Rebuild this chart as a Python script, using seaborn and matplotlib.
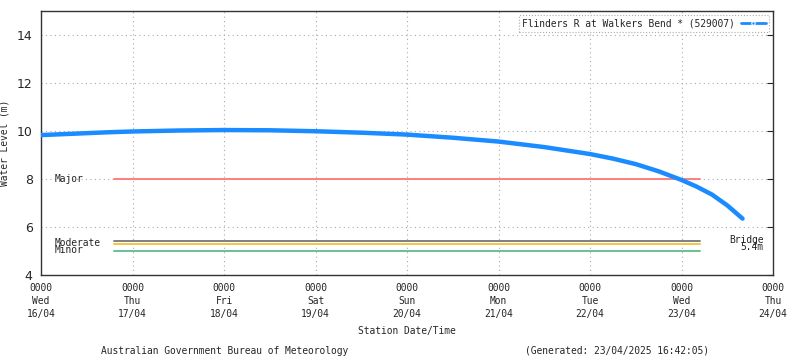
import matplotlib
matplotlib.use('Agg')
import matplotlib.pyplot as plt
import matplotlib.dates as mdates
import pandas as pd
import seaborn as sns

# river level readings
times = ['2025-04-16 00:00', '2025-04-16 06:00', '2025-04-16 12:00', '2025-04-16 18:00',
         '2025-04-17 00:00', '2025-04-17 12:00', '2025-04-18 00:00', '2025-04-18 12:00',
         '2025-04-19 00:00', '2025-04-19 12:00', '2025-04-20 00:00', '2025-04-20 12:00',
         '2025-04-21 00:00', '2025-04-21 12:00', '2025-04-22 00:00', '2025-04-22 06:00',
         '2025-04-22 12:00', '2025-04-22 18:00', '2025-04-23 00:00', '2025-04-23 04:00',
         '2025-04-23 08:00', '2025-04-23 12:00', '2025-04-23 16:00']
levels = [9.83, 9.87, 9.91, 9.95, 9.98, 10.02, 10.04, 10.03,
          9.99, 9.93, 9.85, 9.72, 9.56, 9.33, 9.04, 8.85,
          8.62, 8.32, 7.96, 7.68, 7.35, 6.90, 6.35]

# flood classification levels
thresh_names = ['Major', 'Moderate', 'Minor', 'Bridge']
thresh_values = [8.0, 5.3, 5.0, 5.4]
thresh_colors = ['#ff7f7f', '#f5c542', '#66c199', '#808080']
thresh_start = '2025-04-16 19:12'
thresh_end = '2025-04-23 04:48'

day_ticks = pd.date_range('2025-04-16', '2025-04-24', freq='D')
series_name = 'Flinders R at Walkers Bend * (529007)'

df = pd.DataFrame({'time': pd.to_datetime(times), 'level': levels})

sns.set_style('white')
plt.rcParams['font.family'] = ['DejaVu Sans Mono', 'DejaVu Sans']
fs = 6.9
plt.rcParams['font.size'] = fs

fig = plt.figure(figsize=(8, 3.58), dpi=100)
ax = fig.add_axes([0.0513, 0.2318, 0.915, 0.7375])

# threshold lines
t0, t1 = pd.Timestamp(thresh_start), pd.Timestamp(thresh_end)
for name, val, col in zip(thresh_names, thresh_values, thresh_colors):
    ax.plot([t0, t1], [val, val], color=col, lw=1.4, zorder=2)

sns.lineplot(data=df, x='time', y='level', ax=ax, color='#1a8cff', lw=3.2,
             label=series_name, zorder=3)

ax.set_xlim(day_ticks[0], day_ticks[-1])
ax.set_ylim(4, 15)
ax.set_yticks([4, 6, 8, 10, 12, 14])
ax.set_xticks(day_ticks)
ax.set_xticklabels([d.strftime('0000\n%a\n%d/%m') for d in day_ticks], linespacing=1.35)
ax.xaxis.set_minor_locator(mdates.HourLocator(byhour=[6, 12, 18]))
ax.tick_params(axis='x', which='major', direction='in', length=5, pad=6, top=False, labelsize=fs)
ax.tick_params(axis='x', which='minor', direction='in', length=3, top=False)
ax.tick_params(axis='y', direction='in', length=4, right=True, labelsize=9, pad=6)
for lbl in ax.get_yticklabels():
    lbl.set_family('DejaVu Sans')
ax.grid(True, which='major', color='#aaaaaa', ls=(0, (1, 3)), lw=0.8)
for s in ax.spines.values():
    s.set_color('#333333')
    s.set_linewidth(1)

ax.set_xlabel('Station Date/Time', labelpad=5, fontsize=fs)
ax.set_ylabel('Water Level (m)', labelpad=5, fontsize=fs)

# threshold labels
ax.text(0.019, 8.0, 'Major', transform=ax.get_yaxis_transform(), va='center', fontsize=fs)
ax.text(0.019, 5.33, 'Moderate', transform=ax.get_yaxis_transform(), va='center', fontsize=fs)
ax.text(0.019, 5.03, 'Minor', transform=ax.get_yaxis_transform(), va='center', fontsize=fs)
ax.text(0.987, 5.45, 'Bridge', transform=ax.get_yaxis_transform(), va='center', ha='right', fontsize=fs)
ax.text(0.987, 5.16, '5.4m', transform=ax.get_yaxis_transform(), va='center', ha='right', fontsize=fs)

leg = ax.legend(loc='upper right', frameon=True, fontsize=fs, handlelength=2.6,
                borderaxespad=0.4, fancybox=False, borderpad=0.35, markerfirst=False,
                handletextpad=0.6)
leg.get_frame().set_edgecolor('#999999')
leg.get_frame().set_linestyle(':')
leg.get_frame().set_linewidth(0.8)
for h in leg.get_lines():
    h.set_linewidth(2)
    h.set_marker('o')
    h.set_markersize(2.5)
    h.set_markevery([1])

fig.text(0.281, 0.012, 'Australian Government Bureau of Meteorology', ha='center', fontsize=fs)
fig.text(0.771, 0.012, '(Generated: 23/04/2025 16:42:05)', ha='center', fontsize=fs)

fig.savefig('out.png', dpi=100)
